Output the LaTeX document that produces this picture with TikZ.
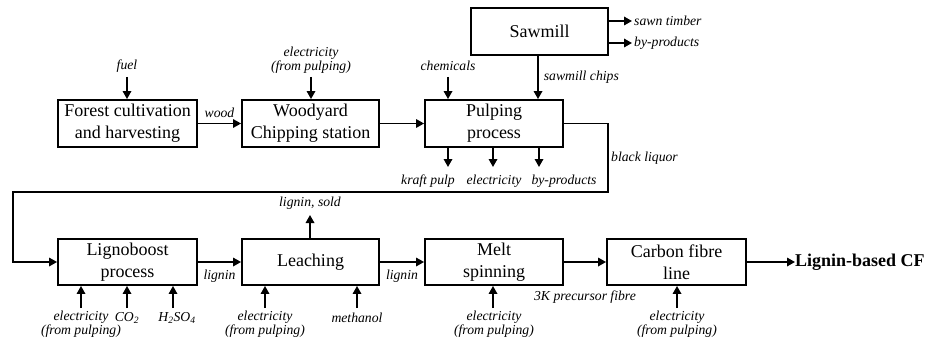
\documentclass[tikz,border=0pt]{standalone}
\usepackage{fontspec}
\setmainfont{Liberation Serif}
\usetikzlibrary{arrows.meta}
\begin{document}
\begin{tikzpicture}[x=1pt,y=-1pt,
 box/.style={draw, line width=1.9pt, inner sep=0pt, align=center, minimum height=47pt, font=\fontsize{18}{22}\selectfont},
 lab/.style={font=\fontsize{13.7}{12.5}\selectfont\itshape, inner sep=0pt, align=center},
 flow/.style={line width=1.7pt, -{Triangle[length=8pt,width=8.5pt]}},
]
\useasboundingbox (0,0) rectangle (928,342);
% top row boxes
\node[box, minimum width=139pt] (forest) at (127.5,123.5) {Forest cultivation\\and harvesting};
\node[box, minimum width=137pt] (wood) at (310.5,123.5) {Woodyard\\Chipping station};
\node[box, minimum width=138pt] (pulp) at (494,123.5) {Pulping\\process};
\node[box, minimum width=137pt] (saw) at (539.5,31.5) {Sawmill};
% bottom row boxes
\node[box, minimum width=139pt, minimum height=46pt] (ligno) at (127.5,262) {Lignoboost\\process};
\node[box, minimum width=137pt, minimum height=46pt] (leach) at (310.5,262) {Leaching};
\node[box, minimum width=138pt, minimum height=46pt] (melt) at (494,262) {Melt\\spinning};
\node[box, minimum width=139pt, minimum height=46pt] (cfl) at (676.5,262) {Carbon fibre\\line};
\node[font=\fontsize{18}{22}\selectfont\bfseries, inner sep=0pt, anchor=west] (cf) at (795,262) {Lignin-based CF};

% main flows
\draw[flow] (forest.east) -- node[lab, above=5pt] {wood} (wood.west);
\draw[flow] (wood.east) -- (pulp.west);
\draw[flow] (ligno.east) -- node[lab, below=7pt] {lignin} (leach.west);
\draw[flow] (leach.east) -- node[lab, below=7pt] {lignin} (melt.west);
\draw[flow] (melt.east) -- (cfl.west);
\draw[flow] (cfl.east) -- (cf.west);

% black liquor
\coordinate (bl1) at (608,123.5);
\coordinate (bl2) at (608,192);
\coordinate (bl3) at (13,192);
\coordinate (bl4) at (13,262);
\draw[flow] (pulp.east) -- (bl1) -- (bl2) -- (bl3) -- (bl4) -- (ligno.west);
\node[lab, anchor=west] (blab) at (611,158) {black liquor};

% sawmill
\draw[flow] ([xshift=-1.5pt]saw.south) -- node[lab, right=5pt, pos=0.5] {sawmill chips} ([xshift=-1.5pt]saw.south |- pulp.north);
\coordinate (st) at (632,21);
\coordinate (sb) at (632,43);
\draw[flow] (saw.east |- st) -- (st);
\draw[flow] (saw.east |- sb) -- (sb);
\node[lab, anchor=west] (stl) at (634,21) {sawn timber};
\node[lab, anchor=west] (sbl) at (634,43) {by-products};

% inputs top
\coordinate (fuelS) at (127,77);
\node[lab] (fuel) at (127,66) {fuel};
\draw[flow] (fuelS) -- (fuelS |- forest.north);
\coordinate (ewS) at (311,77);
\node[lab] (ew) at (311,60) {electricity\\(from pulping)};
\draw[flow] (ewS) -- (ewS |- wood.north);
\coordinate (chS) at (448,77);
\node[lab] (ch) at (448,66) {chemicals};
\draw[flow] (chS) -- (chS |- pulp.north);

% pulping outputs
\coordinate (o1) at (448,167);
\coordinate (o2) at (493,167);
\coordinate (o3) at (539,167);
\draw[flow] (o1 |- pulp.south) -- (o1);
\draw[flow] (o2 |- pulp.south) -- (o2);
\draw[flow] (o3 |- pulp.south) -- (o3);
\node[lab] (kp) at (428,181) {kraft pulp};
\node[lab] (el) at (494,181) {electricity};
\node[lab] (bp) at (564,181) {by-products};

% lignin sold
\coordinate (ls) at (310,215);
\draw[flow] (ls |- leach.north) -- (ls);
\node[lab] (lsl) at (310,203) {lignin, sold};

% bottom inputs
\coordinate (i1) at (81,308);
\coordinate (i2) at (127,308);
\coordinate (i3) at (173,308);
\coordinate (i4) at (265,308);
\coordinate (i5) at (357,308);
\coordinate (i6) at (493,308);
\coordinate (i7) at (677,308);
\draw[flow] (i1) -- (i1 |- ligno.south);
\draw[flow] (i2) -- (i2 |- ligno.south);
\draw[flow] (i3) -- (i3 |- ligno.south);
\draw[flow] (i4) -- (i4 |- leach.south);
\draw[flow] (i5) -- (i5 |- leach.south);
\draw[flow] (i6) -- (i6 |- melt.south);
\draw[flow] (i7) -- (i7 |- cfl.south);
\node[lab] (l1) at (81,324.5) {electricity\\(from pulping)};
\node[lab] (l2) at (127,318) {CO\textsubscript{2}};
\node[lab] (l3) at (177,318) {H\textsubscript{2}SO\textsubscript{4}};
\node[lab] (l4) at (265,324.5) {electricity\\(from pulping)};
\node[lab] (l5) at (357,318) {methanol};
\node[lab] (l6) at (494,324.5) {electricity\\(from pulping)};
\node[lab] (l7) at (677,324.5) {electricity\\(from pulping)};
\node[lab] (pf) at (585,297) {3K precursor fibre};
\end{tikzpicture}
\end{document}
